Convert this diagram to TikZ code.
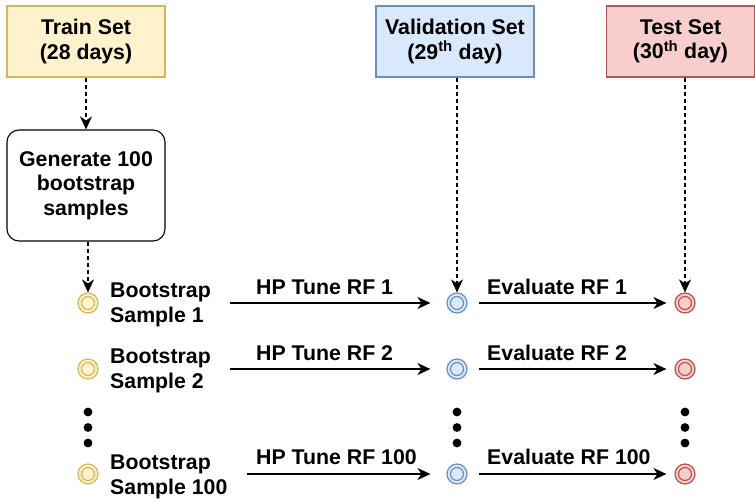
\documentclass[tikz,border=0pt]{standalone}
\usepackage{fontspec}
\setmainfont{Liberation Sans}
\usetikzlibrary{arrows.meta,calc}
\definecolor{yfill}{HTML}{FFF2CC}\definecolor{ydraw}{HTML}{D6B656}
\definecolor{bfill}{HTML}{DAE8FC}\definecolor{bdraw}{HTML}{6C8EBF}
\definecolor{rfill}{HTML}{F8CECC}\definecolor{rdraw}{HTML}{B85450}
\begin{document}
\begin{tikzpicture}[x=1pt,y=-1pt,
  >={Stealth[length=13pt,width=12pt,inset=4pt]},
  font=\fontsize{21.3}{24.5}\selectfont\bfseries,
  setbox/.style={draw=#1draw, fill=#1fill, line width=1.1pt, minimum height=71pt, align=center, inner sep=0pt},
  ring/.style={circle, minimum size=20pt, inner sep=0pt, draw=#1draw, fill=#1fill, line width=1.2pt,
    path picture={\draw[#1draw, line width=1.2pt] (path picture bounding box.center) circle (6.5pt);}},
  bstext/.style={anchor=west, align=left, inner xsep=10pt, inner ysep=0pt},
  lbl/.style={anchor=base west, inner sep=0pt},
  dotnode/.style={circle, fill=black, minimum size=8.8pt, inner sep=0pt},
  arrowline/.style={->, line width=1.2pt},
  darrowline/.style={->, line width=1.2pt, dash pattern=on 4pt off 3pt}
]
\useasboundingbox (0,0) rectangle (755,503);

% top boxes
\node[setbox=y, minimum width=158pt] (train) at (86,41.5) {Train Set\\(28 days)};
\node[setbox=b, minimum width=158pt] (val) at (455,41.5) {Validation Set\\(29\textsuperscript{th} day)};
\node[setbox=r, minimum width=148pt] (test) at (680.5,41.5) {Test Set\\(30\textsuperscript{th} day)};

\node[draw, line width=1.1pt, rounded corners=12pt, minimum width=158pt, minimum height=111pt, align=center, inner sep=0pt]
  (gen) at (86,185.5) {Generate 100\\bootstrap\\samples};

% circles
\node[ring=y] (yc1) at (88,303) {};
\node[ring=y] (yc2) at (88,369) {};
\node[ring=y] (yc3) at (88,474) {};
\node[ring=b] (bc1) at (457,303) {};
\node[ring=b] (bc2) at (457,369) {};
\node[ring=b] (bc3) at (457,474) {};
\node[ring=r] (rc1) at (685,303) {};
\node[ring=r] (rc2) at (685,369) {};
\node[ring=r] (rc3) at (685,474) {};

% dots
\foreach \c/\x in {l/88, m/457, r/685}{
  \node[dotnode] (\c d1) at (\x,412) {};
  \node[dotnode] (\c d2) at (\x,427.5) {};
  \node[dotnode] (\c d3) at (\x,443) {};
}

% bootstrap texts
\node[bstext] (bs1) at (100,305) {Bootstrap\\Sample 1};
\node[bstext] (bs2) at (100,371) {Bootstrap\\Sample 2};
\node[bstext] (bs3) at (100,477) {Bootstrap\\Sample 100};

% dashed connectors
\draw[darrowline] (train) -- (gen);
\draw[darrowline] (gen.south -| yc1) -- (yc1);
\draw[darrowline] (val.south -| bc1) -- (bc1);
\draw[darrowline] (test.south -| rc1) -- (rc1);

% solid arrows
\foreach \i in {1,2,3}{
  \draw[arrowline] ($(bs\i.east |- yc\i)+(9,0)$) -- ($(bc\i.west)+(-16,0)$);
  \draw[arrowline] ($(bc\i.east)+(11,0)$) -- ($(rc\i.west)+(-8,0)$);
}

% labels
\node[lbl] (h1) at (256,294) {HP Tune RF 1};
\node[lbl] (h2) at (256,360) {HP Tune RF 2};
\node[lbl] (h3) at (256,464) {HP Tune RF 100};
\node[lbl] (e1) at (487,294) {Evaluate RF 1};
\node[lbl] (e2) at (487,360) {Evaluate RF 2};
\node[lbl] (e3) at (487,464) {Evaluate RF 100};
\end{tikzpicture}
\end{document}
